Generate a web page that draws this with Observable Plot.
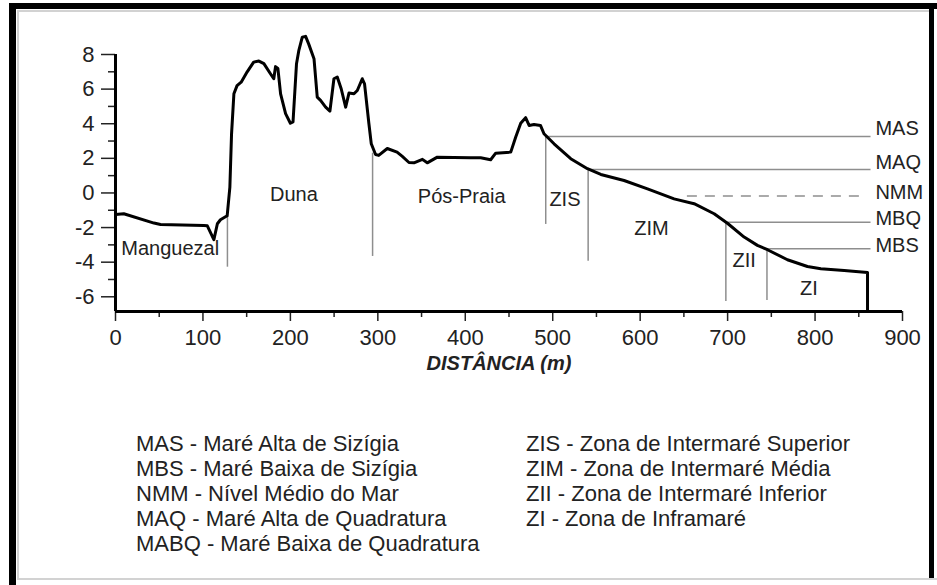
<!DOCTYPE html>
<html><head><meta charset="utf-8">
<script src="https://cdn.jsdelivr.net/npm/d3@7"></script>
<script src="https://cdn.jsdelivr.net/npm/@observablehq/plot@0.6"></script>
<style>
body{margin:0;background:#fff;}
#wrap{position:relative;width:937px;height:585px;overflow:hidden;background:#fff;font-family:"Liberation Sans",Arial,sans-serif;color:#222;}
#chart{position:absolute;left:0;top:0;}
.bar{position:absolute;background:#000;}
.gline{position:absolute;background:#d2d2d2;}
.leg{position:absolute;font-size:22px;line-height:25px;white-space:nowrap;}
</style></head><body>
<div id="wrap">
  <div class="bar" style="left:9px;top:3px;width:928px;height:6px;"></div>
  <div class="bar" style="left:9px;top:3px;width:7px;height:582px;"></div>
  <div class="bar" style="left:929px;top:3px;width:5px;height:575px;"></div>
  <div class="gline" style="left:17px;top:10px;width:912px;height:2px;"></div>
  <div class="gline" style="left:17px;top:10px;width:2px;height:570px;"></div>
  <div class="gline" style="left:17px;top:578px;width:920px;height:2px;"></div>
  <div id="chart"></div>
  <div class="leg" id="legLeft" style="left:136px;top:431px;"></div>
  <div class="leg" id="legRight" style="left:526px;top:431px;"></div>
</div>
<script>
// ---- data ----
const distance = [0, 9.5, 44, 51.5, 101, 105, 112.5, 116.5, 120, 127.7, 130.8, 132.7, 135.4, 139, 143.7, 150.6, 158, 164, 169.7, 177, 181, 183, 185.7, 188.8, 194.5, 200, 203, 207, 209.7, 213.6, 217.4, 221, 227, 230.7, 234.5, 240.3, 245.2, 249.8, 253.6, 258.1, 263.2, 267, 272.7, 276.5, 282.2, 284.8, 289.8, 292.5, 297.4, 301, 310.8, 322, 328, 335.6, 341.3, 351, 356.5, 368, 406, 417.6, 429, 434.8, 452, 457.7, 463.4, 469, 473, 478.6, 486, 490, 501.5, 520.6, 539.7, 555, 581.6, 608.4, 638.8, 661.7, 684.6, 699.8, 718.9, 734.1, 745.6, 768.4, 791.3, 806.6, 833.3, 860, 860];
const elevation = [-1.25, -1.2, -1.74, -1.82, -1.88, -1.9, -2.7, -1.78, -1.55, -1.32, 0.34, 3.4, 5.73, 6.2, 6.4, 7.0, 7.56, 7.62, 7.47, 6.9, 6.6, 7.3, 7.2, 5.73, 4.58, 4.03, 4.1, 7.47, 8.24, 9.0, 9.05, 8.6, 7.76, 5.54, 5.35, 4.96, 4.73, 6.6, 6.7, 6.02, 4.96, 5.77, 5.73, 5.92, 6.6, 6.3, 4.0, 2.84, 2.22, 2.17, 2.57, 2.36, 2.11, 1.76, 1.74, 1.94, 1.74, 2.07, 2.03, 2.03, 1.92, 2.3, 2.36, 3.23, 4.03, 4.35, 3.9, 3.96, 3.9, 3.42, 2.84, 1.98, 1.4, 1.07, 0.72, 0.24, -0.34, -0.62, -1.2, -1.75, -2.55, -3.03, -3.28, -3.86, -4.25, -4.38, -4.48, -4.6, -6.85];

const yBase = -6.85;
const yTop = 8;
const yMajor = [8, 6, 4, 2, 0, -2, -4, -6];
const yMinor = [7, 5, 3, 1, -1, -3, -5];
const xMajor = [0, 100, 200, 300, 400, 500, 600, 700, 800, 900];
const xMinor = [50, 150, 250, 350, 450, 550, 650, 750, 850];

const levelNames = ["MAS", "MAQ", "NMM", "MBQ", "MBS"];
const levelValues = [3.26, 1.36, -0.18, -1.69, -3.23];
const levelStart = [492, 541.5, 654, 700, 745.6];
const levelEnd = [864, 864, 854, 864, 864];
const levelDashed = [false, false, true, false, false];
const levelLabelY = [3.72, 1.78, 0.02, -1.49, -3.07];
const levelLabelX = 869;

const sepX = [128, 294, 492, 540.5, 698, 745];
const sepTop = [-1.36, 2.3, 3.26, 1.36, -1.69, -3.23];
const sepBottom = [-4.29, -3.67, -1.82, -3.94, -6.27, -6.21];

const zoneNames = ["Manguezal", "Duna", "Pós-Praia", "ZIS", "ZIM", "ZII", "ZI"];
const zoneX = [62.5, 204, 396, 514, 613, 719, 793];
const zoneY = [-3.22, -0.09, -0.2, -0.39, -2.07, -3.9, -5.54];

const xLabel = "DISTÂNCIA (m)";
const legendLeft = ["MAS - Maré Alta de Sizígia", "MBS - Maré Baixa de Sizígia", "NMM - Nível Médio do Mar", "MAQ - Maré Alta de Quadratura", "MABQ - Maré Baixa de Quadratura"];
const legendRight = ["ZIS - Zona de Intermaré Superior", "ZIM - Zona de Intermaré Média", "ZII - Zona de Intermaré Inferior", "ZI - Zona de Inframaré"];

// ---- tables ----
const profile = distance.map((d, i) => ({d, z: elevation[i]}));
const levels = levelNames.map((n, i) => ({name: n, y: levelValues[i], x1: levelStart[i], x2: levelEnd[i], dashed: levelDashed[i], ly: levelLabelY[i]}));
const seps = sepX.map((x, i) => ({x, y1: sepTop[i], y2: sepBottom[i]}));
const zones = zoneNames.map((n, i) => ({name: n, x: zoneX[i], y: zoneY[i]}));

const font = "'Liberation Sans', Arial, sans-serif";
const gray = "#8e8e8e";

const chart = Plot.plot({
  width: 937, height: 400,
  marginLeft: 115, marginRight: 35, marginTop: 54, marginBottom: 89,
  x: {domain: [0, 900]},
  y: {domain: [yBase, yTop]},
  style: {fontFamily: font, fontSize: "22px", color: "#222", background: "transparent", overflow: "visible"},
  marks: [
    Plot.ruleX(seps, {x: "x", y1: "y1", y2: "y2", stroke: gray, strokeWidth: 1.5}),
    Plot.ruleY(levels.filter(d => !d.dashed), {y: "y", x1: "x1", x2: "x2", stroke: gray, strokeWidth: 1.5}),
    Plot.ruleY(levels.filter(d => d.dashed), {y: "y", x1: "x1", x2: "x2", stroke: gray, strokeWidth: 1.5, strokeDasharray: "10,8"}),
    Plot.line(profile, {x: "d", y: "z", stroke: "#000", strokeWidth: 3, strokeLinejoin: "round"}),
    Plot.axisY({ticks: yMajor, tickSize: 14, tickPadding: 7, tickFormat: d => String(d), label: null, strokeWidth: 1.5}),
    Plot.axisY({ticks: yMinor, tickSize: 7, tickFormat: () => "", label: null, strokeWidth: 1.5}),
    Plot.axisX({ticks: xMajor, tickSize: 10, tickPadding: 8, tickFormat: d => String(d), label: null, strokeWidth: 1.5}),
    Plot.axisX({ticks: xMinor, tickSize: 6, tickFormat: () => "", label: null, strokeWidth: 1.5}),
    Plot.ruleX([0], {y1: yBase, y2: yTop, stroke: "#000", strokeWidth: 3}),
    Plot.ruleY([yBase], {x1: 0, x2: 900, stroke: "#000", strokeWidth: 3}),
    Plot.text(zones, {x: "x", y: "y", text: "name", fontSize: 20, fill: "#222"}),
    Plot.text(levels, {x: () => levelLabelX, y: "ly", text: "name", fontSize: 20, fill: "#222", textAnchor: "start"}),
    Plot.text([xLabel], {frameAnchor: "bottom", dy: 58, dx: -10, fontSize: 20, fontWeight: "bold", fontStyle: "italic", fill: "#222"})
  ]
});
document.getElementById("chart").appendChild(chart);
document.getElementById("legLeft").innerHTML = legendLeft.map(t => `<div>${t}</div>`).join("");
document.getElementById("legRight").innerHTML = legendRight.map(t => `<div>${t}</div>`).join("");
</script>
</body></html>
